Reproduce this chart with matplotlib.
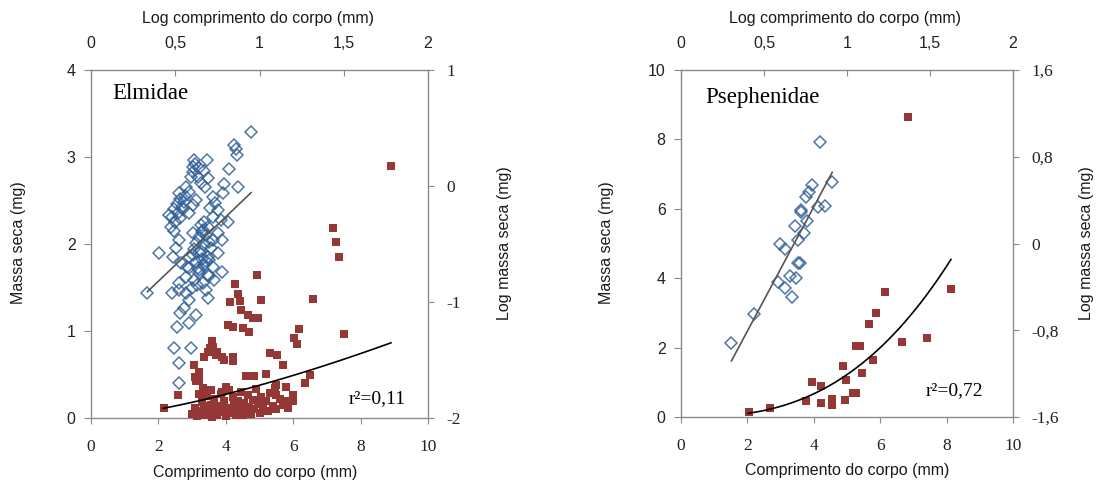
import numpy as np
import matplotlib
matplotlib.use("Agg")
import matplotlib.pyplot as plt
from matplotlib.ticker import FuncFormatter

# ---------------- data ----------------
# Elmidae: dry mass (mg) vs body length (mm) -- linear scale (red squares)
elm_len = [8.90, 7.18, 7.28, 7.36, 4.93, 4.27, 4.37, 4.11, 4.43, 5.03, 6.60, 4.46, 4.65, 4.95,
           4.80, 4.06, 4.21, 4.50, 4.70, 6.17, 6.03, 6.11, 7.51,
           3.59, 3.63, 3.46, 3.36, 3.71, 3.96, 4.21, 4.21, 3.54, 3.75, 3.90, 5.30, 5.52, 5.69,
           3.07, 3.21, 3.10, 3.12, 3.21, 3.31, 5.20, 4.60, 4.85, 6.49, 6.34, 5.50, 5.80, 5.50,
           5.84, 5.99, 5.45, 2.57, 2.17,
           3.00, 3.10, 3.15, 3.25, 3.30, 3.35, 3.40, 3.45, 3.50, 3.55, 3.60, 3.65, 3.70, 3.75,
           3.80, 3.85, 3.90, 3.95, 4.00, 4.05, 4.10, 4.15, 4.20, 4.25, 4.30, 4.35, 4.40, 4.45,
           4.50, 4.55, 4.60, 4.65, 4.70, 4.75, 4.80, 4.85, 4.90, 4.95, 5.00, 5.05, 5.10, 5.20,
           5.25, 5.30, 5.40, 5.50, 5.60, 5.70, 5.85, 6.00, 3.20, 3.55, 4.00, 3.35, 3.90]
elm_mass = [2.90, 2.18, 2.02, 1.85, 1.64, 1.54, 1.43, 1.33, 1.35, 1.36, 1.37, 1.24, 1.18, 1.15,
            1.15, 1.07, 1.05, 1.03, 0.99, 1.02, 0.92, 0.85, 0.97,
            0.89, 0.82, 0.76, 0.70, 0.72, 0.67, 0.70, 0.65, 0.80, 0.76, 0.70, 0.75, 0.72, 0.61,
            0.61, 0.53, 0.47, 0.42, 0.44, 0.34, 0.51, 0.48, 0.48, 0.49, 0.40, 0.38, 0.36, 0.26,
            0.19, 0.19, 0.34, 0.26, 0.11,
            0.05, 0.12, 0.02, 0.08, 0.18, 0.03, 0.10, 0.25, 0.06, 0.15, 0.01, 0.22, 0.09, 0.04,
            0.14, 0.28, 0.07, 0.19, 0.02, 0.12, 0.32, 0.06, 0.24, 0.15, 0.04, 0.20, 0.10, 0.30,
            0.03, 0.17, 0.08, 0.26, 0.13, 0.05, 0.21, 0.10, 0.33, 0.16, 0.06, 0.24, 0.12, 0.20,
            0.08, 0.29, 0.14, 0.10, 0.22, 0.15, 0.12, 0.27, 0.28, 0.32, 0.36, 0.14, 0.30]

# Elmidae: log body length vs log dry mass (blue diamonds)
elm_loglen = [0.950, 0.847, 0.861, 0.865, 0.688, 0.619, 0.643, 0.607, 0.673, 0.633, 0.692, 0.655,
              0.679, 0.817, 0.873, 0.788, 0.782, 0.593, 0.583, 0.558, 0.530, 0.554, 0.508, 0.538,
              0.623, 0.603, 0.490, 0.514, 0.480, 0.500, 0.528, 0.474, 0.722, 0.736, 0.752, 0.706,
              0.772, 0.812, 0.726, 0.673, 0.692, 0.653, 0.520, 0.494, 0.603, 0.643, 0.683, 0.752,
              0.778, 0.722, 0.623, 0.673, 0.712, 0.504, 0.752, 0.643, 0.692, 0.405, 0.583, 0.484,
              0.623, 0.673, 0.722, 0.778, 0.583, 0.534, 0.643, 0.692, 0.732, 0.613, 0.563, 0.524,
              0.663, 0.683, 0.335, 0.480, 0.563, 0.696, 0.524, 0.583, 0.554, 0.528, 0.623, 0.579,
              0.510, 0.494, 0.593, 0.520, 0.520, 0.659, 0.607, 0.702, 0.635, 0.464, 0.583, 0.563,
              0.613, 0.603, 0.663, 0.650, 0.700, 0.640, 0.680, 0.610, 0.660, 0.630, 0.700, 0.545,
              0.520, 0.570, 0.600]
elm_logmass = [0.468, 0.353, 0.316, 0.267, 0.224, 0.190, 0.152, 0.124, 0.129, 0.080, 0.066, 0.029,
               -0.006, 0.144, -0.006, 0.014, -0.057, 0.075, -0.049, -0.086, -0.115, -0.135, -0.155,
               -0.178, -0.121, -0.164, -0.201, -0.236, -0.270, -0.307, -0.279, -0.351, -0.092,
               -0.144, -0.207, -0.193, -0.293, -0.307, -0.264, -0.307, -0.351, -0.336, -0.466,
               -0.385, -0.408, -0.437, -0.422, -0.408, -0.466, -0.466, -0.494, -0.509, -0.537,
               -0.537, -0.580, -0.566, -0.609, -0.580, -0.609, -0.609, -0.652, -0.681, -0.695,
               -0.739, -0.710, -0.667, -0.753, -0.767, -0.810, -0.810, -0.782, -0.839, -0.839,
               -0.897, -0.920, -0.925, -0.925, -0.968, -0.897, -0.983, -1.055, -1.098, -1.112,
               -1.184, -1.213, -1.399, -1.399, -1.529, -1.695, -0.632, -0.595, -0.638, -0.710,
               -0.250, -0.236, -0.006, 0.224, 0.167, -0.379, -0.560, -0.480, -0.720, -0.650,
               -0.540, -0.400, -0.850, -0.780, -0.200, -0.060, -0.700, -0.880]

# Psephenidae: linear (red squares)
pse_len = [6.83, 6.13, 5.88, 5.65, 8.13, 7.40, 6.65, 5.26, 5.38, 5.78, 4.87, 5.45, 4.97, 3.94,
           4.22, 5.18, 5.28, 4.93, 4.55, 4.55, 4.22, 3.77, 2.69, 2.04]
pse_mass = [8.64, 3.61, 3.01, 2.69, 3.70, 2.27, 2.17, 2.05, 2.05, 1.64, 1.46, 1.26, 1.07, 1.00,
            0.90, 0.68, 0.68, 0.50, 0.52, 0.35, 0.40, 0.45, 0.26, 0.13]

# Psephenidae: log-log (blue diamonds)
pse_loglen = [0.835, 0.911, 0.789, 0.771, 0.751, 0.825, 0.870, 0.725, 0.720, 0.761, 0.685,
              0.741, 0.705, 0.595, 0.625, 0.715, 0.705, 0.655, 0.695, 0.585, 0.625, 0.667,
              0.438, 0.304]
pse_logmass = [0.932, 0.564, 0.543, 0.472, 0.429, 0.334, 0.343, 0.307, 0.290, 0.211, 0.159,
               0.098, 0.028, 0.000, -0.055, -0.178, -0.178, -0.300, -0.316, -0.356, -0.408,
               -0.493, -0.647, -0.913]

# trendline coefficients (as drawn in the figure)
elm_pow = (0.0371, 1.44, 2.14, 8.90)      # y = a*x^b, x range
pse_pow = (0.01584, 2.70, 2.02, 8.13)
elm_lin = (1.388, -1.376, 0.335, 0.950)   # log y = m*log x + c, range
pse_lin = (2.864, -1.953, 0.304, 0.911)

elm_r2 = "r²=0,11"
pse_r2 = "r²=0,72"

# ---------------- styling ----------------
W, H = 1097, 486
DPI = 100
RED = "#953735"
BLUE = "#2F5F98"
SPINE = "#8a8a8a"
SANS = "Liberation Sans"
SERIF = "Liberation Serif"

def comma(v, pos=None):
    if abs(v - round(v)) < 1e-9:
        return "%d" % int(round(v))
    return ("%g" % v).replace(".", ",")

fig = plt.figure(figsize=(W / DPI, H / DPI), dpi=DPI)

def px_axes(x0, x1, y0, y1):
    return [x0 / W, 1 - y1 / H, (x1 - x0) / W, (y1 - y0) / H]

def make_panel(rect, lin_x, lin_y, log_x, log_y, ylim, yticks, y2lim, y2ticks, pw, lw,
               name, r2, r2_xy, name_xy):
    ax = fig.add_axes(rect)
    ax2 = fig.add_axes(rect, frameon=False)
    # primary (linear) axes
    ax.set_xlim(0, 10)
    ax.set_xticks([0, 2, 4, 6, 8, 10])
    ax.set_ylim(*ylim)
    ax.set_yticks(yticks)
    for s in ax.spines.values():
        s.set_color(SPINE)
        s.set_linewidth(1.0)
    ax.tick_params(axis="x", direction="out", length=4, color=SPINE, pad=11,
                   labelsize=12.5, labelcolor="#222222", labelfontfamily=SERIF)
    ax.tick_params(axis="y", direction="out", length=5, color=SPINE, pad=6,
                   labelsize=11.5, labelcolor="#222222", labelfontfamily=SANS)
    ax.xaxis.set_major_formatter(FuncFormatter(comma))
    ax.yaxis.set_major_formatter(FuncFormatter(comma))

    # secondary (log) axes
    ax2.set_xlim(0, 2)
    ax2.set_xticks([0, 0.5, 1, 1.5, 2])
    ax2.set_ylim(*y2lim)
    ax2.set_yticks(y2ticks)
    ax2.xaxis.tick_top()
    ax2.yaxis.tick_right()
    ax2.tick_params(axis="x", direction="in", length=4, color=SPINE, pad=14,
                    labelsize=11.5, labelcolor="#222222", labelfontfamily=SANS)
    ax2.tick_params(axis="y", direction="out", length=4, color=SPINE, pad=9,
                    labelsize=12.5, labelcolor="#222222", labelfontfamily=SERIF)
    ax2.xaxis.set_major_formatter(FuncFormatter(comma))
    ax2.yaxis.set_major_formatter(FuncFormatter(comma))

    # data
    ax.plot(lin_x, lin_y, linestyle="none", marker="s", markersize=5.3,
            color=RED, markeredgewidth=0, clip_on=False, zorder=3)
    a, b, x0, x1 = pw
    xs = np.linspace(x0, x1, 100)
    ax.plot(xs, a * xs ** b, color="black", lw=1.2, zorder=4)

    ax2.plot(log_x, log_y, linestyle="none", marker="D", markersize=5.8,
             markerfacecolor="none", markeredgecolor=BLUE, markeredgewidth=1.1,
             alpha=0.85, clip_on=False, zorder=3)
    m, c, l0, l1 = lw
    lx = np.array([l0, l1])
    ax2.plot(lx, m * lx + c, color="#555555", lw=1.2, zorder=4)

    ax.text(name_xy[0], name_xy[1], name, transform=ax.transAxes, fontfamily=SERIF,
            fontsize=16.5, ha="left", va="baseline", color="black")
    ax.text(r2_xy[0], r2_xy[1], r2, transform=ax.transAxes, fontfamily=SERIF,
            fontsize=14, ha="left", va="baseline", color="black")
    return ax, ax2

make_panel(px_axes(91, 428, 70, 418), elm_len, elm_mass, elm_loglen, elm_logmass,
           (0, 4), [0, 1, 2, 3, 4], (-2, 1), [-2, -1, 0, 1], elm_pow, elm_lin,
           "Elmidae", elm_r2, (0.763, 0.044), (0.062, 0.917))
make_panel(px_axes(681, 1013, 70, 417), pse_len, pse_mass, pse_loglen, pse_logmass,
           (0, 10), [0, 2, 4, 6, 8, 10], (-1.6, 1.6), [-1.6, -0.8, 0, 0.8, 1.6], pse_pow, pse_lin,
           "Psephenidae", pse_r2, (0.738, 0.063), (0.072, 0.905))

lab = dict(fontfamily=SANS, fontsize=11.5, color="#1a1a1a")
def ftext(x, y, s, rot=0):
    fig.text(x / W, 1 - y / H, s, ha="center", va="center", rotation=rot, **lab)

ftext(258, 19, "Log comprimento do corpo (mm)")
ftext(255, 472, "Comprimento do corpo (mm)")
ftext(19, 243, "Massa seca (mg)", 90)
ftext(504, 243, "Log massa seca (mg)", 90)

ftext(845, 19, "Log comprimento do corpo (mm)")
ftext(847, 470, "Comprimento do corpo (mm)")
ftext(607, 243, "Massa seca (mg)", 90)
ftext(1087, 243, "Log massa seca (mg)", 90)

fig.savefig("out.png", dpi=DPI)
